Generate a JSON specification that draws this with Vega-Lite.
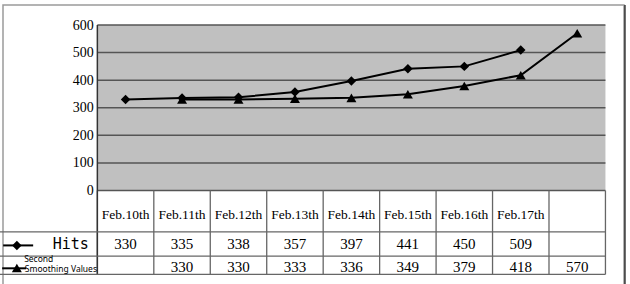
{
  "$schema": "https://vega.github.io/schema/vega-lite/v6.json",
  "width": 621,
  "height": 284,
  "padding": {"left": 3, "top": 5, "right": 6, "bottom": 0},
  "autosize": {"type": "none"},
  "background": "white",
  "config": {"view": {"stroke": "#9a9a9a", "strokeWidth": 1.5}},
  "data": {
    "values": [
      {"day": "Feb.10th", "hits": 330, "smooth": null},
      {"day": "Feb.11th", "hits": 335, "smooth": 330},
      {"day": "Feb.12th", "hits": 338, "smooth": 330},
      {"day": "Feb.13th", "hits": 357, "smooth": 333},
      {"day": "Feb.14th", "hits": 397, "smooth": 336},
      {"day": "Feb.15th", "hits": 441, "smooth": 349},
      {"day": "Feb.16th", "hits": 450, "smooth": 379},
      {"day": "Feb.17th", "hits": 509, "smooth": 418},
      {"day": "", "hits": null, "smooth": 570}
    ]
  },
  "encoding": {
    "x": {
      "field": "day",
      "type": "nominal",
      "sort": null,
      "scale": {
        "type": "band",
        "domain": ["Feb.10th", "Feb.11th", "Feb.12th", "Feb.13th", "Feb.14th", "Feb.15th", "Feb.16th", "Feb.17th", ""],
        "paddingInner": 0,
        "paddingOuter": 1.0634,
        "align": 0.8357
      },
      "axis": null
    }
  },
  "layer": [
    {
      "data": {"values": [{}]},
      "mark": {"type": "rect", "fill": "#c0c0c0"},
      "encoding": {
        "x": {"datum": "Feb.10th", "bandPosition": 0},
        "x2": {"datum": "", "bandPosition": 1},
        "y": {
          "datum": 600,
          "type": "quantitative",
          "scale": {"domain": [-357, 672.5], "nice": false, "zero": false},
          "axis": {
            "values": [0, 100, 200, 300, 400, 500, 600],
            "offset": -99.2,
            "labelPadding": 9,
            "labelFont": "Times New Roman, Liberation Serif, DejaVu Serif, serif",
            "labelFontSize": 14,
            "labelColor": "#000000",
            "domain": false,
            "ticks": false,
            "grid": false,
            "title": null
          }
        },
        "y2": {"datum": 0}
      }
    },
    {
      "data": {"values": [{}]},
      "mark": {"type": "rule", "stroke": "#333333", "strokeWidth": 1.5, "xOffset": -99.2},
      "encoding": {
        "x": {"datum": "Feb.10th", "bandPosition": 0},
        "y": {"datum": 672.5},
        "y2": {"datum": -357}
      }
    },
    {
      "data": {"values": [{}]},
      "mark": {"type": "rule", "stroke": "#333333", "strokeWidth": 1.5, "xOffset": 19.5},
      "encoding": {
        "x": {"datum": "", "bandPosition": 1},
        "y": {"datum": 672.5},
        "y2": {"datum": -357}
      }
    },
    {
      "data": {"values": [{"g": 0}, {"g": 100}, {"g": 200}, {"g": 300}, {"g": 400}, {"g": 500}, {"g": 600}]},
      "mark": {"type": "rule", "stroke": "#555555", "strokeWidth": 1.5},
      "encoding": {
        "x": {"datum": "Feb.10th", "bandPosition": 0},
        "x2": {"datum": "", "bandPosition": 1},
        "y": {"field": "g", "type": "quantitative"}
      }
    },
    {
      "mark": {"type": "rule", "stroke": "#666666", "strokeWidth": 1.3},
      "encoding": {
        "x": {"field": "day", "type": "nominal", "bandPosition": 0},
        "y": {"datum": 0},
        "y2": {"datum": -304}
      }
    },
    {
      "data": {"values": [{}]},
      "mark": {"type": "rule", "stroke": "#666666", "strokeWidth": 1.3},
      "encoding": {
        "x": {"datum": "", "bandPosition": 1},
        "y": {"datum": 0},
        "y2": {"datum": -304}
      }
    },
    {
      "data": {"values": [{}]},
      "mark": {"type": "rule", "stroke": "#333333", "strokeWidth": 1.5},
      "encoding": {
        "x": {"datum": "Feb.10th", "bandPosition": 0},
        "y": {"datum": 600},
        "y2": {"datum": -304}
      }
    },
    {
      "data": {"values": [{"r": -150}, {"r": -237.5}, {"r": -304}]},
      "mark": {"type": "rule", "stroke": "#666666", "strokeWidth": 1.3, "xOffset": -99.2},
      "encoding": {
        "x": {"datum": "Feb.10th", "bandPosition": 0},
        "x2": {"datum": "", "bandPosition": 1},
        "y": {"field": "r", "type": "quantitative"}
      }
    },
    {
      "mark": {"type": "line", "stroke": "#000000", "strokeWidth": 2},
      "encoding": {"y": {"field": "hits", "type": "quantitative"}}
    },
    {
      "mark": {"type": "point", "shape": "diamond", "filled": true, "color": "#000000", "size": 90, "opacity": 1},
      "encoding": {"y": {"field": "hits", "type": "quantitative"}}
    },
    {
      "mark": {"type": "line", "stroke": "#000000", "strokeWidth": 2},
      "encoding": {"y": {"field": "smooth", "type": "quantitative"}}
    },
    {
      "mark": {"type": "point", "shape": "triangle-up", "filled": true, "color": "#000000", "size": 100, "opacity": 1},
      "encoding": {"y": {"field": "smooth", "type": "quantitative"}}
    },
    {
      "mark": {"type": "text", "font": "Times New Roman, Liberation Serif, DejaVu Serif, serif", "fontSize": 13.5, "color": "#000000", "baseline": "alphabetic", "align": "center"},
      "encoding": {"y": {"datum": -103.3}, "text": {"field": "day"}}
    },
    {
      "transform": [{"filter": "datum.hits != null"}],
      "mark": {"type": "text", "font": "Times New Roman, Liberation Serif, DejaVu Serif, serif", "fontSize": 15, "color": "#000000", "baseline": "alphabetic", "align": "center"},
      "encoding": {"y": {"datum": -213.2}, "text": {"field": "hits"}}
    },
    {
      "transform": [{"filter": "datum.smooth != null"}],
      "mark": {"type": "text", "font": "Times New Roman, Liberation Serif, DejaVu Serif, serif", "fontSize": 15, "color": "#000000", "baseline": "alphabetic", "align": "center"},
      "encoding": {"y": {"datum": -294.4}, "text": {"field": "smooth"}}
    },
    {
      "data": {"values": [{}]},
      "mark": {"type": "rule", "stroke": "#000000", "strokeWidth": 2, "xOffset": -94.2, "x2Offset": -64.2},
      "encoding": {
        "x": {"datum": "Feb.10th", "bandPosition": 0},
        "x2": {"datum": "Feb.10th", "bandPosition": 0},
        "y": {"datum": -199}
      }
    },
    {
      "data": {"values": [{}]},
      "mark": {"type": "point", "shape": "diamond", "filled": true, "color": "#000000", "size": 90, "opacity": 1, "xOffset": -80.5},
      "encoding": {
        "x": {"datum": "Feb.10th", "bandPosition": 0},
        "y": {"datum": -199}
      }
    },
    {
      "data": {"values": [{}]},
      "mark": {"type": "rule", "stroke": "#000000", "strokeWidth": 2, "xOffset": -95.2, "x2Offset": -71.2},
      "encoding": {
        "x": {"datum": "Feb.10th", "bandPosition": 0},
        "x2": {"datum": "Feb.10th", "bandPosition": 0},
        "y": {"datum": -282}
      }
    },
    {
      "data": {"values": [{}]},
      "mark": {"type": "point", "shape": "triangle-up", "filled": true, "color": "#000000", "size": 100, "opacity": 1, "xOffset": -80.5},
      "encoding": {
        "x": {"datum": "Feb.10th", "bandPosition": 0},
        "y": {"datum": -281}
      }
    },
    {
      "data": {"values": [{"t": "Hits"}]},
      "mark": {"type": "text", "font": "DejaVu Sans Mono", "fontSize": 15, "color": "#000000", "baseline": "alphabetic", "align": "right", "dx": -8.5},
      "encoding": {
        "x": {"datum": "Feb.10th", "bandPosition": 0},
        "y": {"datum": -212},
        "text": {"field": "t"}
      }
    },
    {
      "data": {"values": [{"t": "Second"}]},
      "mark": {"type": "text", "font": "Noto Sans", "fontSize": 8.5, "color": "#000000", "baseline": "alphabetic", "align": "left", "dx": -73.2},
      "encoding": {
        "x": {"datum": "Feb.10th", "bandPosition": 0},
        "y": {"datum": -259.2},
        "text": {"field": "t"}
      }
    },
    {
      "data": {"values": [{"t": "Smoothing Values"}]},
      "mark": {"type": "text", "font": "Noto Sans", "fontSize": 8.5, "color": "#000000", "baseline": "alphabetic", "align": "left", "dx": -72.5},
      "encoding": {
        "x": {"datum": "Feb.10th", "bandPosition": 0},
        "y": {"datum": -294},
        "text": {"field": "t"}
      }
    }
  ]
}
